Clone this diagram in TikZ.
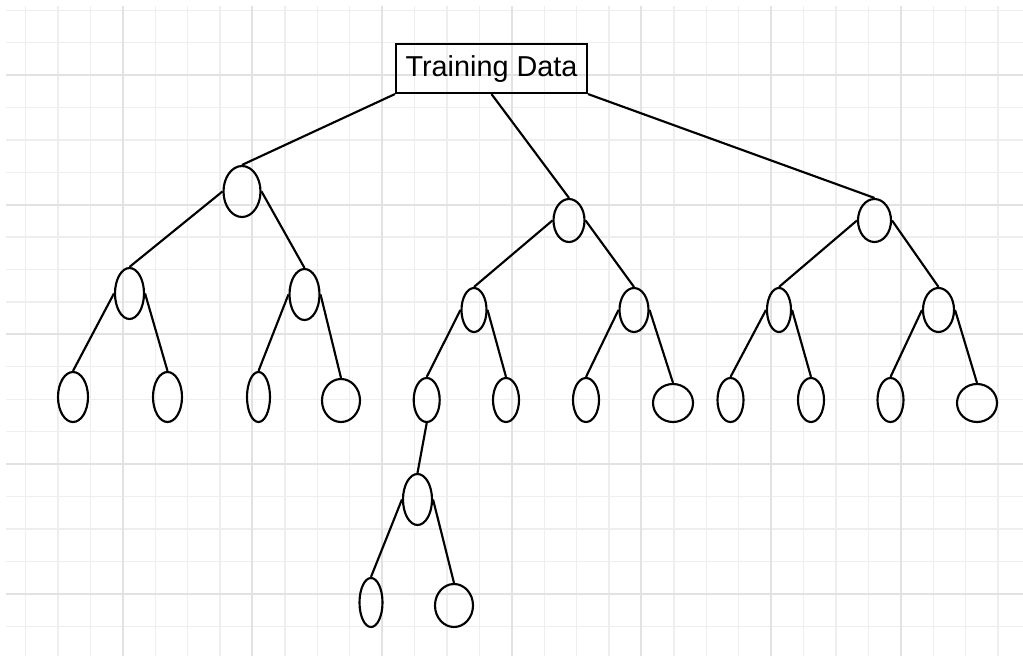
\documentclass[tikz,border=0pt]{standalone}
\usepackage{fontspec}
\setmainfont{Liberation Sans}
\usetikzlibrary{shapes.geometric}

\definecolor{gridminor}{HTML}{EEEEEE}
\definecolor{gridmajor}{HTML}{E2E2E2}

\tikzset{
  minorline/.style={draw=gridminor, line width=1pt},
  majorline/.style={draw=gridmajor, line width=1.5pt},
  edge/.style={draw=black, line width=1.6pt},
  oval/.style 2 args={ellipse, draw=black, line width=1.6pt, inner sep=0pt,
    minimum width=(#1-2)*0.75pt, minimum height=(#2-2)*0.75pt},
  rootbox/.style={rectangle, draw=black, line width=1.6pt, inner sep=0pt,
    minimum width=191*0.75pt, minimum height=49*0.75pt,
    text height=15pt, text depth=2.7pt,
    font=\fontsize{21.6pt}{24pt}\selectfont}
}

\begin{document}
\begin{tikzpicture}[x=0.75pt,y=-0.75pt]
  % canvas
  \fill[white] (0,0) rectangle (1023,656);
  \useasboundingbox (0,0) rectangle (1023,656);

  % squared paper
  \begin{scope}
    \clip (6,6) rectangle (1023,656);
    \foreach \k in {0,...,30} {
      \pgfmathsetmacro\gx{25.5+32.42*\k}
      \draw[minorline] (\gx,6) -- (\gx,656);
    }
    \foreach \k in {0,...,19} {
      \pgfmathsetmacro\gy{10.2+32.42*\k}
      \draw[minorline] (6,\gy) -- (1023,\gy);
    }
    \foreach \m in {0,...,6} {
      \pgfmathsetmacro\gx{122.76+129.68*\m}
      \draw[majorline] (\gx,6) -- (\gx,656);
    }
    \foreach \m in {0,...,4} {
      \pgfmathsetmacro\gy{75.04+129.68*\m}
      \draw[majorline] (6,\gy) -- (1023,\gy);
    }
  \end{scope}

  % root
  \node[rootbox] (root) at (491.5,68.5) {Training Data};

  % first split
  \node[oval={39}{53}] (A) at (242,191.5) {};
  \node[oval={33}{45}] (B) at (569,220.5) {};
  \node[oval={35}{45}] (C) at (874.5,220.5) {};

  % second split
  \node[oval={31}{53}] (A1) at (129.5,293.5) {};
  \node[oval={32}{53}] (A2) at (304.5,294.5) {};
  \node[oval={27}{46}] (B1) at (474,310) {};
  \node[oval={31}{46}] (B2) at (634,310) {};
  \node[oval={26}{46}] (C1) at (779,310) {};
  \node[oval={33}{46}] (C2) at (938.5,310) {};

  % third split
  \node[oval={32}{52}] (A1a) at (73,397) {};
  \node[oval={31}{52}] (A1b) at (167.5,397) {};
  \node[oval={25}{52}] (A2a) at (258.5,397) {};
  \node[oval={40}{45}] (A2b) at (341,400.5) {};
  \node[oval={28}{46}] (B1a) at (426.7,400) {};
  \node[oval={28}{46}] (B1b) at (506,400) {};
  \node[oval={28}{46}] (B2a) at (586,400) {};
  \node[oval={42}{40}] (B2b) at (673,403) {};
  \node[oval={28}{46}] (C1a) at (730.5,400) {};
  \node[oval={28}{46}] (C1b) at (811,400) {};
  \node[oval={28}{46}] (C2a) at (890.5,400) {};
  \node[oval={42}{40}] (C2b) at (977,403) {};

  % deeper branch
  \node[oval={31}{53}] (D) at (417.5,499.5) {};
  \node[oval={25}{51}] (D1) at (371,602.5) {};
  \node[oval={40}{45}] (D2) at (454,605.5) {};

  % connectors
  \draw[edge] (root.south west) -- (A.north);
  \draw[edge] (root.south) -- (B.north);
  \draw[edge] (root.south east) -- (C.north);

  \draw[edge] (A.west) -- (A1.north);
  \draw[edge] (A.east) -- (A2.north);
  \draw[edge] (B.west) -- (B1.north);
  \draw[edge] (B.east) -- (B2.north);
  \draw[edge] (C.west) -- (C1.north);
  \draw[edge] (C.east) -- (C2.north);

  \draw[edge] (A1.west) -- (A1a.north);
  \draw[edge] (A1.east) -- (A1b.north);
  \draw[edge] (A2.west) -- (A2a.north);
  \draw[edge] (A2.east) -- (A2b.north);
  \draw[edge] (B1.west) -- (B1a.north);
  \draw[edge] (B1.east) -- (B1b.north);
  \draw[edge] (B2.west) -- (B2a.north);
  \draw[edge] (B2.east) -- (B2b.north);
  \draw[edge] (C1.west) -- (C1a.north);
  \draw[edge] (C1.east) -- (C1b.north);
  \draw[edge] (C2.west) -- (C2a.north);
  \draw[edge] (C2.east) -- (C2b.north);

  \draw[edge] (B1a.south) -- (D.north);
  \draw[edge] (D.west) -- (D1.north);
  \draw[edge] (D.east) -- (D2.north);
\end{tikzpicture}
\end{document}
